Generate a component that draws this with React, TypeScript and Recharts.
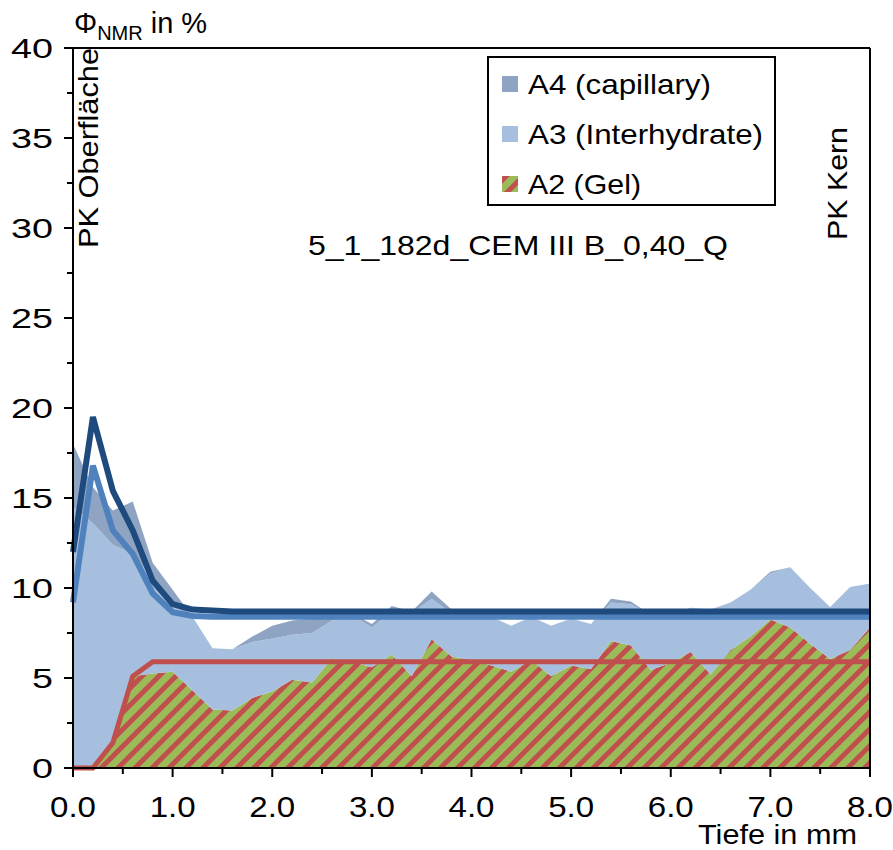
import React from 'react'
import { ComposedChart, Area, Line, XAxis, YAxis, ReferenceLine } from 'recharts'

// Tiefe in mm (Messpunkte alle 0,2 mm)
const depth = [
  0, 0.2, 0.4, 0.6, 0.8, 1.0, 1.2, 1.4, 1.6, 1.8, 2.0, 2.2, 2.4, 2.6, 2.8, 3.0, 3.2, 3.4, 3.6, 3.8, 4.0,
  4.2, 4.4, 4.6, 4.8, 5.0, 5.2, 5.4, 5.6, 5.8, 6.0, 6.2, 6.4, 6.6, 6.8, 7.0, 7.2, 7.4, 7.6, 7.8, 8.0,
]

// gestapelte Anteile in %
const a2Gel = [
  0, 0, 1.4, 5.1, 5.25, 5.35, 4.3, 3.25, 3.2, 3.9, 4.25, 4.9, 4.75, 6.1, 5.9, 5.6, 6.3, 5.1, 7.15, 6.2, 6.0,
  5.7, 5.35, 6.0, 5.1, 5.7, 5.5, 7.05, 6.8, 5.45, 5.85, 6.45, 5.2, 6.55, 7.3, 8.25, 7.8, 6.9, 6.05, 6.55, 7.8,
]
const a3Inter = [
  14.5, 13.6, 11.0, 6.8, 5.25, 3.65, 4.1, 3.4, 3.4, 3.1, 2.95, 2.5, 2.75, 2.1, 2.6, 2.2, 2.4, 3.5, 2.25, 2.4, 2.5,
  2.7, 2.55, 2.4, 2.8, 2.6, 2.5, 2.15, 2.3, 3.05, 2.75, 2.45, 3.6, 2.65, 2.6, 2.55, 3.35, 3.1, 2.9, 3.5, 2.45,
]
const a4Cap = [
  3.5, 2.0, 1.9, 2.9, 0.9, 0.9, 0, 0, 0, 0.3, 0.7, 0.8, 0.8, 0.4, 0.1, 0.2, 0.3, 0.1, 0.4, 0.2, 0.1,
  0, 0, 0, 0, 0, 0, 0.2, 0.15, 0, 0, 0, 0, 0, 0, 0.1, 0, 0, 0, 0, 0,
]

// Modellkurven
const fitTotal = [
  12.0, 19.5, 15.4, 13.2, 10.4, 9.1, 8.8, 8.75, 8.7, 8.7, 8.7, 8.7, 8.7, 8.7, 8.7, 8.7, 8.7, 8.7, 8.7, 8.7, 8.7,
  8.7, 8.7, 8.7, 8.7, 8.7, 8.7, 8.7, 8.7, 8.7, 8.7, 8.7, 8.7, 8.7, 8.7, 8.7, 8.7, 8.7, 8.7, 8.7, 8.7,
]
const fitA3 = [
  9.2, 16.8, 13.2, 11.9, 9.7, 8.65, 8.45, 8.4, 8.4, 8.4, 8.4, 8.4, 8.4, 8.4, 8.4, 8.4, 8.4, 8.4, 8.4, 8.4, 8.4,
  8.4, 8.4, 8.4, 8.4, 8.4, 8.4, 8.4, 8.4, 8.4, 8.4, 8.4, 8.4, 8.4, 8.4, 8.4, 8.4, 8.4, 8.4, 8.4, 8.4,
]
const fitA2 = [
  0, 0, 1.4, 5.1, 5.9, 5.9, 5.9, 5.9, 5.9, 5.9, 5.9, 5.9, 5.9, 5.9, 5.9, 5.9, 5.9, 5.9, 5.9, 5.9, 5.9,
  5.9, 5.9, 5.9, 5.9, 5.9, 5.9, 5.9, 5.9, 5.9, 5.9, 5.9, 5.9, 5.9, 5.9, 5.9, 5.9, 5.9, 5.9, 5.9, 5.9,
]

const xTicks = [0, 0.5, 1, 1.5, 2, 2.5, 3, 3.5, 4, 4.5, 5, 5.5, 6, 6.5, 7, 7.5, 8]
const yTicks = [0, 2.5, 5, 7.5, 10, 12.5, 15, 17.5, 20, 22.5, 25, 27.5, 30, 32.5, 35, 37.5, 40]

const legendItems = [
  { name: 'A4 (capillary)', fill: '#8EA4C2', width: 183 },
  { name: 'A3 (Interhydrate)', fill: '#A7BFDE', width: 235 },
  { name: 'A2 (Gel)', fill: 'url(#gelHatch)', width: 113 },
]

const data = depth.map((d, i) => ({
  depth: d,
  a2: a2Gel[i],
  a3: a3Inter[i],
  a4: a4Cap[i],
  fitTotal: fitTotal[i],
  fitA3: fitA3[i],
  fitA2: fitA2[i],
}))

const font = '"Liberation Sans", Arial, sans-serif'

const XTick = (props: any) => {
  const { x, y, payload } = props
  const v = payload.value as number
  const major = Number.isInteger(v)
  return (
    <g>
      <line x1={x} x2={x} y1={y} y2={y + (major ? 9 : 6)} stroke="#000" strokeWidth={2} />
      {major && (
        <text x={x} y={y + 49} textAnchor="middle" fontSize={30} fontFamily={font} fill="#000"
          textLength={46} lengthAdjust="spacingAndGlyphs">
          {v.toFixed(1)}
        </text>
      )}
    </g>
  )
}

const YTick = (props: any) => {
  const { x, y, payload } = props
  const v = payload.value as number
  const major = v % 5 === 0
  const label = String(v)
  return (
    <g>
      <line x1={x} x2={x - (major ? 9 : 6)} y1={y} y2={y} stroke="#000" strokeWidth={2} />
      {major && (
        <text x={x - 20} y={y + 10} textAnchor="end" fontSize={28} fontFamily={font} fill="#000"
          textLength={21 * label.length} lengthAdjust="spacingAndGlyphs">
          {label}
        </text>
      )}
    </g>
  )
}

export default function App() {
  return (
    <div style={{ position: 'absolute', left: 0, top: 0, width: 893, height: 850, background: '#fff' }}>
      <ComposedChart width={893} height={850} data={data}
        margin={{ top: 48, right: 23, bottom: 42, left: 13 }}>
        <defs>
          <pattern id="gelHatch" patternUnits="userSpaceOnUse" width={12} height={12}
            patternTransform="rotate(45)">
            <rect width={12} height={12} fill="#9BBB59" />
            <rect width={5} height={12} fill="#C0504D" />
          </pattern>
        </defs>
        <XAxis dataKey="depth" type="number" domain={[0, 8]} ticks={xTicks} interval={0}
          tick={<XTick />} tickLine={false} tickSize={0} tickMargin={0} height={40}
          axisLine={{ stroke: '#000', strokeWidth: 2 }} />
        <YAxis type="number" domain={[0, 40]} ticks={yTicks} interval={0}
          tick={<YTick />} tickLine={false} tickSize={0} tickMargin={0} width={60}
          axisLine={{ stroke: '#000', strokeWidth: 2 }} />
        <Area type="linear" dataKey="a2" stackId="s" stroke="none" fill="url(#gelHatch)" fillOpacity={1}
          isAnimationActive={false} />
        <Area type="linear" dataKey="a3" stackId="s" stroke="none" fill="#A7BFDE" fillOpacity={1}
          isAnimationActive={false} />
        <Area type="linear" dataKey="a4" stackId="s" stroke="none" fill="#8EA4C2" fillOpacity={1}
          isAnimationActive={false} />
        <Line type="linear" dataKey="fitA2" stroke="#C0504D" strokeWidth={5} dot={false}
          isAnimationActive={false} />
        <Line type="linear" dataKey="fitA3" stroke="#4F81BD" strokeWidth={6} dot={false}
          isAnimationActive={false} />
        <Line type="linear" dataKey="fitTotal" stroke="#1F4A7E" strokeWidth={6} dot={false}
          isAnimationActive={false} />
        <ReferenceLine y={40} stroke="#000" strokeWidth={2} />
        <ReferenceLine x={8} stroke="#000" strokeWidth={2} />
      </ComposedChart>
      <svg width={893} height={850} style={{ position: 'absolute', left: 0, top: 0, pointerEvents: 'none' }}
        fontFamily={font}>
        <text x={74} y={33} fontSize={29} fill="#000">
          Φ<tspan fontSize={20} dy={7}>NMR</tspan><tspan fontSize={29} dy={-7}> in %</tspan>
        </text>
        <text x={698} y={844} fontSize={27} fill="#000" textLength={159} lengthAdjust="spacingAndGlyphs">
          Tiefe in mm
        </text>
        <text transform="translate(98,248) rotate(-90)" fontSize={27} fill="#000" textLength={200}
          lengthAdjust="spacingAndGlyphs">PK Oberfläche</text>
        <text transform="translate(847,240) rotate(-90)" fontSize={27} fill="#000" textLength={113}
          lengthAdjust="spacingAndGlyphs">PK Kern</text>
        <text x={308} y={255} fontSize={28} fill="#000" textLength={420} lengthAdjust="spacingAndGlyphs">
          5_1_182d_CEM III B_0,40_Q
        </text>
        <rect x={488} y={57} width={287} height={148} fill="#fff" stroke="#000" strokeWidth={2} />
        {legendItems.map((it, i) => (
          <g key={it.name}>
            <rect x={502} y={76 + i * 50} width={16} height={16} fill={it.fill} />
            <text x={528} y={94 + i * 50} fontSize={28} fill="#000" textLength={it.width}
              lengthAdjust="spacingAndGlyphs">{it.name}</text>
          </g>
        ))}
      </svg>
    </div>
  )
}
